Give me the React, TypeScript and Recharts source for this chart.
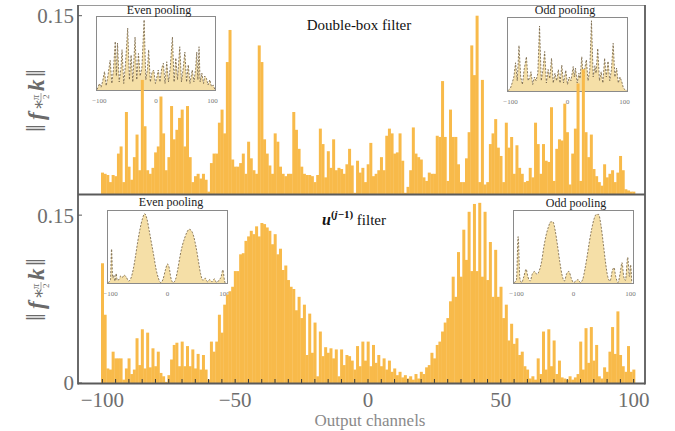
import React from 'react';
import { BarChart, Bar, XAxis, YAxis, AreaChart, Area } from 'recharts';

const FONT = '"Liberation Serif", "DejaVu Serif", serif';

// Output channels -100 .. 100
const channels: number[] = [];
for (let c = -100; c <= 100; c++) channels.push(c);

const xTicks = [-100, -95, -90, -85, -80, -75, -70, -65, -60, -55, -50, -45, -40, -35, -30, -25, -20, -15, -10, -5, 0, 5, 10, 15, 20, 25, 30, 35, 40, 45, 50, 55, 60, 65, 70, 75, 80, 85, 90, 95, 100];
const yTicks = [0, 0.15];
const insetTicks = [-100, 0, 100];

// Double-box filter, values in thousandths
const doubleBox = [
  18, 17, 16, 10, 16, 15, 34, 40, 10, 69,
  23, 12, 31, 50, 20, 96, 57, 20, 17, 22,
  35, 40, 82, 51, 20, 31, 74, 46, 54, 64,
  71, 40, 74, 31, 10, 15, 17, 13, 17, 12,
  2, 26, 34, 34, 60, 71, 51, 111, 138, 29,
  23, 23, 26, 34, 17, 44, 30, 20, 17, 125,
  111, 46, 34, 24, 17, 51, 44, 23, 17, 15,
  17, 17, 69, 54, 38, 23, 17, 16, 16, 15,
  10, 16, 55, 42, 14, 36, 22, 46, 20, 22,
  21, 17, 25, 38, 24, 1, 28, 18, 22, 10,
  25, 43, 15, 17, 20, 31, 20, 49, 55, 51,
  34, 35, 51, 28, 1, 6, 20, 56, 34, 31,
  29, 14, 11, 18, 17, 17, 49, 48, 95, 48,
  11, 71, 48, 48, 25, 10, 10, 30, 52, 125,
  100, 150, 10, 96, 8, 10, 42, 51, 63, 39,
  32, 10, 60, 39, 48, 17, 41, 22, 17, 10,
  11, 22, 14, 60, 42, 17, 42, 28, 27, 73,
  11, 38, 46, 45, 76, 52, 8, 34, 55, 93,
  11, 105, 52, 31, 50, 21, 15, 10, 7, 25,
  14, 17, 20, 10, 18, 32, 20, 4, 3, 2,
  2,
];

// u^(j-1) filter, values in thousandths
const uFilter = [
  107, 61, 13, 12, 28, 22, 22, 22, 3, 13,
  22, 8, 12, 40, 16, 48, 13, 45, 14, 31,
  15, 28, 9, 6, 1, 7, 21, 34, 36, 15,
  37, 15, 33, 15, 30, 13, 26, 12, 25, 12,
  3, 37, 28, 37, 61, 45, 70, 79, 82, 86,
  100, 100, 115, 116, 127, 131, 136, 133, 140, 131,
  143, 142, 139, 136, 124, 133, 115, 120, 101, 105,
  92, 86, 84, 65, 77, 58, 70, 25, 62, 27,
  54, 6, 46, 24, 32, 27, 31, 22, 30, 6,
  30, 16, 25, 24, 20, 12, 33, 15, 37, 20,
  37, 15, 34, 18, 25, 15, 22, 12, 20, 10,
  13, 7, 10, 5, 7, 4, 6, 3, 8, 4,
  10, 8, 14, 16, 27, 22, 34, 37, 46, 54,
  58, 73, 95, 77, 117, 95, 137, 110, 153, 100,
  160, 100, 161, 95, 153, 92, 126, 77, 119, 77,
  86, 58, 70, 38, 53, 35, 40, 25, 28, 15,
  12, 4, 6, 3, 22, 8, 46, 12, 48, 15,
  38, 8, 20, 5, 4, 3, 6, 3, 5, 8,
  37, 12, 49, 18, 50, 20, 34, 6, 4, 14,
  10, 28, 50, 26, 64, 25, 15, 10, 33, 10,
  12,
];

// Insets (relative heights)
const tlX = [-104, -100, -97, -94, -91, -88, -85, -81, -78, -75, -72, -70, -68, -65, -62, -60, -57, -54, -50, -47, -44, -41, -37, -34, -31, -28, -25, -21, -18, -15, -13, -10, -7, -4, -1, 2, 4, 7, 10, 13, 16, 19, 22, 25, 29, 32, 35, 38, 42, 45, 48, 51, 54, 57, 60, 64, 67, 70, 72, 74, 76, 78, 81, 84, 86, 89, 92, 95, 98, 101, 104];
const tlY = [0.02, 0.1, 0.05, 0.14, 0.26, 0.07, 0.2, 0.41, 0.1, 0.3, 0.66, 0.2, 0.64, 0.12, 0.3, 0.55, 0.1, 0.35, 0.84, 0.15, 0.48, 0.12, 0.72, 0.15, 0.5, 0.2, 0.3, 0.95, 0.15, 0.3, 0.55, 0.12, 0.25, 0.28, 0.1, 0.2, 0.28, 0.12, 0.3, 0.37, 0.1, 0.39, 0.12, 0.3, 0.72, 0.12, 0.44, 0.15, 0.59, 0.12, 0.3, 0.52, 0.12, 0.35, 0.1, 0.28, 0.12, 0.3, 0.52, 0.15, 0.59, 0.12, 0.24, 0.1, 0.2, 0.17, 0.08, 0.15, 0.06, 0.08, 0.02];

const trX = [-104, -100, -97, -94, -91, -88, -85, -82, -79, -76, -72, -69, -66, -64, -61, -58, -55, -52, -49, -46, -43, -40, -37, -34, -31, -28, -25, -22, -19, -16, -13, -10, -7, -3, 0, 3, 6, 10, 12, 14, 17, 20, 22, 25, 28, 30, 33, 36, 39, 42, 45, 48, 50, 53, 56, 59, 62, 65, 68, 71, 74, 77, 80, 83, 86, 89, 92, 95, 98, 101, 104];
const trY = [0.02, 0.05, 0.12, 0.2, 0.39, 0.15, 0.62, 0.2, 0.1, 0.3, 0.47, 0.15, 0.2, 0.27, 0.1, 0.2, 0.15, 0.25, 0.88, 0.15, 0.3, 0.54, 0.12, 0.3, 0.18, 0.45, 0.12, 0.25, 0.15, 0.3, 0.12, 0.36, 0.12, 0.29, 0.1, 0.2, 0.15, 0.34, 0.2, 0.32, 0.12, 0.25, 0.18, 0.47, 0.15, 0.3, 0.43, 0.15, 0.3, 0.95, 0.2, 0.35, 0.25, 0.58, 0.15, 0.27, 0.12, 0.45, 0.2, 0.41, 0.15, 0.3, 0.65, 0.2, 0.32, 0.12, 0.2, 0.14, 0.05, 0.03, 0.02];

const blX = [-104, -100, -98, -96, -94, -92, -90, -88, -84, -82, -79, -76, -72, -68, -64, -60, -56, -52, -48, -44, -40, -36, -32, -28, -24, -20, -16, -12, -8, -4, 0, 3, 6, 10, 14, 18, 22, 26, 30, 34, 38, 42, 46, 50, 54, 58, 62, 66, 70, 74, 78, 82, 86, 90, 94, 97, 100, 102];
const blY = [0.02, 0.05, 0.47, 0.08, 0.12, 0.04, 0.14, 0.05, 0.07, 0.11, 0.09, 0.12, 0.09, 0.04, 0.08, 0.2, 0.38, 0.58, 0.75, 0.88, 0.95, 0.88, 0.72, 0.55, 0.38, 0.2, 0.08, 0.02, 0.06, 0.18, 0.27, 0.22, 0.08, 0.02, 0.06, 0.2, 0.38, 0.52, 0.62, 0.7, 0.74, 0.72, 0.64, 0.5, 0.32, 0.14, 0.05, 0.08, 0.03, 0.06, 0.03, 0.07, 0.02, 0.05, 0.1, 0.19, 0.04, 0.0];

const brX = [-104, -100, -97, -94, -91, -87, -83, -80, -76, -72, -68, -64, -60, -56, -52, -48, -44, -40, -36, -32, -28, -24, -20, -16, -12, -8, -4, 0, 4, 8, 12, 16, 20, 24, 28, 32, 36, 40, 44, 48, 52, 56, 60, 64, 68, 71, 74, 78, 82, 85, 88, 91, 95, 98, 100, 102];
const brY = [0.02, 0.05, 0.64, 0.08, 0.02, 0.1, 0.2, 0.1, 0.04, 0.14, 0.17, 0.13, 0.18, 0.3, 0.5, 0.66, 0.77, 0.84, 0.84, 0.72, 0.52, 0.3, 0.12, 0.04, 0.14, 0.17, 0.08, 0.02, 0.04, 0.06, 0.02, 0.06, 0.2, 0.38, 0.58, 0.75, 0.88, 0.94, 0.94, 0.8, 0.56, 0.3, 0.1, 0.04, 0.18, 0.22, 0.1, 0.02, 0.16, 0.29, 0.1, 0.05, 0.36, 0.1, 0.26, 0.02];

const topData = channels.map((c, i) => ({ c, v: doubleBox[i] / 1000 }));
const botData = channels.map((c, i) => ({ c, v: uFilter[i] / 1000 }));

const BAR = '#F8BA4A';
const TICK_COLOR = '#6e6e6e';
const FRAME = '#5a5a5a';

const fmtY = (v: number) => (v === 0 ? '0' : '0.15');
const fmtNum = (v: number) => (v < 0 ? '\u2212' + Math.abs(v) : String(v));

function Inset(props: { left: number; top: number; w: number; h: number; xs: number[]; ys: number[]; curve: 'linear' | 'monotone' }) {
  const { left, top, w, h, xs, ys, curve } = props;
  const data = xs.map((x, i) => ({ x, y: ys[i] }));
  const axisH = 18;
  return (
    <div style={{ position: 'absolute', left: left - 8, top, width: w + 16, height: h + axisH }}>
      <AreaChart width={w + 16} height={h + axisH} data={data} margin={{ top: 0, right: 8, bottom: 0, left: 8 }}>
        <XAxis
          dataKey="x"
          type="number"
          domain={[-106, 106]}
          ticks={insetTicks}
          height={axisH}
          axisLine={false}
          tickLine={false}
          tickMargin={1}
          interval={0}
          tick={{ fontSize: 7, fill: '#777', fontFamily: FONT }}
          tickFormatter={fmtNum}
        />
        <YAxis hide domain={[0, 1]} />
        <Area
          dataKey="y"
          type={curve}
          fill="#F3D998"
          fillOpacity={0.85}
          stroke="#6e5d40"
          strokeDasharray="2 1.5"
          strokeWidth={0.8}
          dot={false}
          isAnimationActive={false}
        />
      </AreaChart>
      <div style={{ position: 'absolute', left: 8, top: 0, width: w, height: h, border: '1px solid #8a8a8a', boxSizing: 'border-box' }} />
    </div>
  );
}

function YLabel(props: { cx: number; cy: number }) {
  const { cx, cy } = props;
  const c = '#6a6a6a';
  return (
    <g transform={`translate(${cx},${cy}) rotate(-90)`} fontFamily={FONT} fill={c}>
      <text x={-34} y={9} fontSize={28}>{'\u2016'}</text>
      <text x={-22} y={8} fontSize={23} fontWeight="bold" fontStyle="italic">f</text>
      <text x={-12} y={8} fontSize={17}>{'\u2217'}</text>
      <text x={-2} y={3} fontSize={10} fontStyle="italic">{'\u03c0'}</text>
      <line x1={-3} x2={5} y1={5} y2={5} stroke={c} strokeWidth={0.6} />
      <text x={-1} y={13} fontSize={9}>2</text>
      <text x={7} y={8} fontSize={23} fontWeight="bold" fontStyle="italic">k</text>
      <text x={21} y={9} fontSize={28}>{'\u2016'}</text>
    </g>
  );
}

export default function App() {
  const yTick = { fontSize: 21, fill: TICK_COLOR, fontFamily: FONT };
  return (
    <div style={{ position: 'absolute', left: 0, top: 0, width: 675, height: 431, background: '#fff', overflow: 'hidden' }}>
      <Inset left={96} top={16} w={120} h={75} xs={tlX} ys={tlY} curve="linear" />
      <Inset left={507} top={17} w={121} h={75} xs={trX} ys={trY} curve="linear" />
      <Inset left={107} top={210} w={121} h={74} xs={blX} ys={blY} curve="monotone" />
      <Inset left={513} top={210} w={121} h={74} xs={brX} ys={brY} curve="monotone" />

      <div style={{ position: 'absolute', left: 0, top: 0 }}>
        <BarChart width={675} height={200} data={topData} margin={{ top: 5, right: 30, bottom: 6, left: 8 }} barCategoryGap={0} barGap={0}>
          <XAxis dataKey="c" type="category" hide padding={{ left: 23, right: 10 }} />
          <YAxis
            width={70}
            domain={[0, 0.159]}
            ticks={yTicks}
            allowDataOverflow
            axisLine={false}
            tickSize={-4}
            tickMargin={8}
            tickLine={{ stroke: FRAME }}
            tick={yTick}
            tickFormatter={fmtY}
          />
          <Bar dataKey="v" fill={BAR} isAnimationActive={false} />
        </BarChart>
      </div>

      <div style={{ position: 'absolute', left: 0, top: 0 }}>
        <BarChart width={675} height={431} data={botData} margin={{ top: 195, right: 30, bottom: 18, left: 8 }} barCategoryGap={0} barGap={0}>
          <XAxis
            dataKey="c"
            type="category"
            ticks={xTicks}
            interval={0}
            height={30}
            padding={{ left: 23, right: 10 }}
            axisLine={false}
            tickSize={-4}
            tickMargin={13}
            tickLine={{ stroke: '#333' }}
            tick={yTick}
            tickFormatter={(v: number) => (v % 50 === 0 ? fmtNum(v) : '')}
          />
          <YAxis
            width={70}
            domain={[0, 0.168]}
            ticks={yTicks}
            allowDataOverflow
            axisLine={false}
            tickSize={-4}
            tickMargin={8}
            tickLine={{ stroke: FRAME }}
            tick={yTick}
            tickFormatter={fmtY}
          />
          <Bar dataKey="v" fill={BAR} isAnimationActive={false} />
        </BarChart>
      </div>

      <svg width={675} height={431} style={{ position: 'absolute', left: 0, top: 0, pointerEvents: 'none' }}>
        <line x1={78} x2={645} y1={5.5} y2={5.5} stroke="#9a9a9a" strokeWidth={1.2} />
        <line x1={78} x2={78} y1={5} y2={384.5} stroke={FRAME} strokeWidth={1.8} />
        <line x1={645} x2={645} y1={5} y2={384.5} stroke={FRAME} strokeWidth={1.8} />
        <line x1={78} x2={645} y1={194.5} y2={194.5} stroke={FRAME} strokeWidth={2} />
        <line x1={78} x2={645} y1={383.5} y2={383.5} stroke={FRAME} strokeWidth={2} />

        <text x={359} y={30} textAnchor="middle" fontFamily={FONT} fontSize={15} fill="#111">Double-box filter</text>
        <text x={322} y={225} fontFamily={FONT} fill="#111">
          <tspan fontSize={16} fontWeight="bold" fontStyle="italic">u</tspan>
          <tspan fontSize={11} dy={-7} fontWeight="bold">(</tspan>
          <tspan fontSize={11} fontStyle="italic" fontWeight="bold">j</tspan>
          <tspan fontSize={11} fontWeight="bold">{'\u22121)'}</tspan>
          <tspan fontSize={15} dy={7}>{' filter'}</tspan>
        </text>

        <text x={159} y={14} textAnchor="middle" fontFamily={FONT} fontSize={12} fill="#222">Even pooling</text>
        <text x={565} y={14} textAnchor="middle" fontFamily={FONT} fontSize={12} fill="#222">Odd pooling</text>
        <text x={171} y={206} textAnchor="middle" fontFamily={FONT} fontSize={12} fill="#222">Even pooling</text>
        <text x={576} y={207} textAnchor="middle" fontFamily={FONT} fontSize={12} fill="#222">Odd pooling</text>

        <text x={370} y={426} textAnchor="middle" fontFamily={FONT} fontSize={17} fill="#8a8a8a">Output channels</text>

        <YLabel cx={36} cy={98} />
        <YLabel cx={36} cy={287} />
      </svg>
    </div>
  );
}
